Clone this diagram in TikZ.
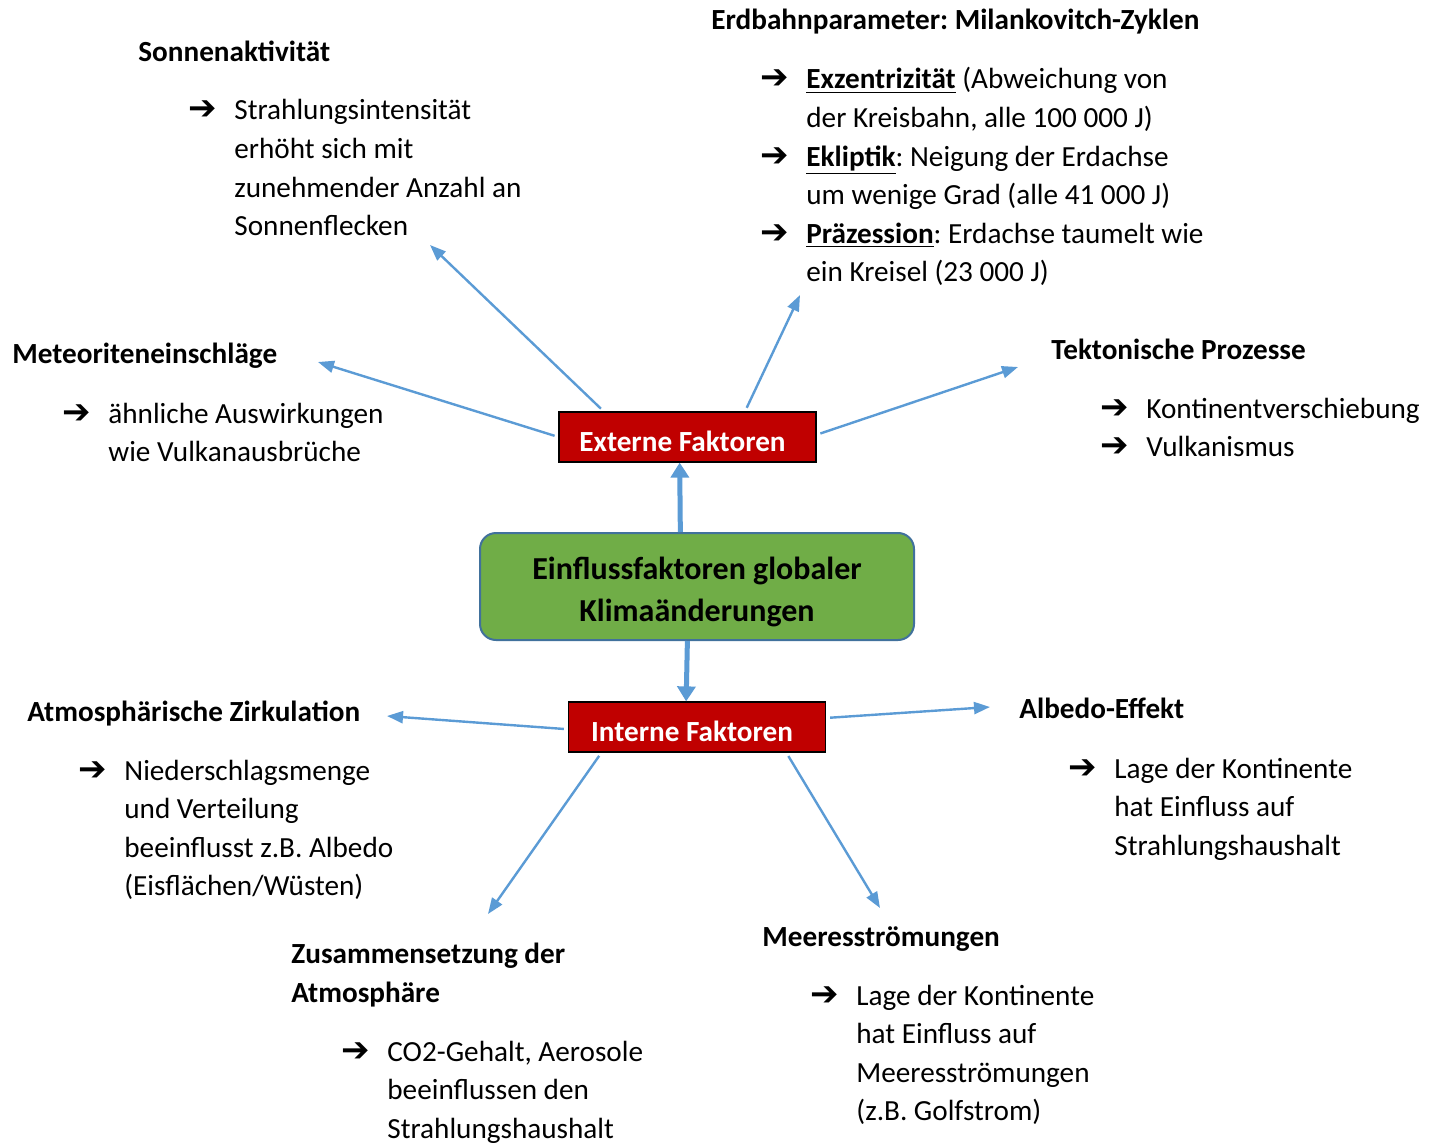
\documentclass[tikz,border=0pt]{standalone}
\usepackage{fontspec}
\setmainfont{Carlito}
\newfontfamily\arrowfont{DejaVu Sans Bold}
\usetikzlibrary{arrows.meta}
\definecolor{linkblue}{HTML}{5B9BD5}
\definecolor{factred}{HTML}{C00000}
\definecolor{mainfill}{HTML}{70AD47}
\definecolor{mainline}{HTML}{41719C}
\newcommand\bodyfont{\fontsize{14.6}{19.3}\selectfont}
\newcommand\itemarrow{{\arrowfont\fontsize{17}{17}\selectfont ➔}}
\newcommand\arrlist[1]{\begin{tabular}[t]{@{}p{23pt}@{}l@{}}#1\end{tabular}}
\frenchspacing

\begin{document}
\begin{tikzpicture}[
        x=0.5pt, y=-0.5pt,
        font=\bodyfont,
        head/.style={anchor=base west, inner sep=0pt, font=\bodyfont\bfseries},
        list/.style={anchor=base west, inner sep=0pt},
        factor/.style={draw=black, line width=0.6pt, fill=factred, text=white,
            font=\bodyfont\bfseries, minimum width=128.5pt, minimum height=25pt,
            text height=14pt, text depth=0pt, execute at begin node=\hspace*{-5pt}},
        main/.style={draw=mainline, line width=1pt, fill=mainfill, rounded corners=8pt,
            minimum width=217pt, minimum height=53.5pt, align=center,
            text height=34.8pt, text depth=0pt,
            font=\fontsize{16}{21}\selectfont\bfseries},
        link/.style={linkblue, line width=1.2pt, shorten <=2pt,
            -{Triangle[length=8pt,width=6pt]}},
        bigarrow/.style={linkblue, line width=2.5pt, -{Triangle[length=7.5pt,width=9pt]}},
    ]
    \useasboundingbox (0,0) rectangle (1439,1144);

    % centre
    \node[main] (klima) at (697,586.5) {Einflussfaktoren globaler\\Klimaänderungen};
    \node[factor] (ext) at (687.5,437) {Externe Faktoren};
    \node[factor] (int) at (697,727) {Interne Faktoren};

    \draw[bigarrow] (klima.107.6) -- (ext.253.3);
    \draw[bigarrow] (klima.260.5) -- (int.113.7);

    % externe Faktoren
    \node[head] (sonne) at (138,62) {Sonnenaktivität};
    \node[list] (sonnetxt) at (188,120) {\arrlist{\itemarrow & Strahlungsintensität\\
        & erhöht sich mit\\ & zunehmender Anzahl an\\ & Sonnenflecken}};

    \node[head] (erdbahn) at (711,30) {Erdbahnparameter: Milankovitch-Zyklen};
    \node[list] (erdbahntxt) at (760,89) {\arrlist{%
        \itemarrow & \underline{\textbf{Exzentrizität}} (Abweichung von\\
        & der Kreisbahn, alle 100~000 J)\\
        \itemarrow & \underline{\textbf{Ekliptik}}: Neigung der Erdachse\\
        & um wenige Grad (alle 41~000 J)\\
        \itemarrow & \underline{\textbf{Präzession}}: Erdachse taumelt wie\\
        & ein Kreisel (23~000 J)}};

    \node[head] (meteor) at (12,364) {Meteoriteneinschläge};
    \node[list] (meteortxt) at (62,423) {\arrlist{\itemarrow & ähnliche Auswirkungen\\
        & wie Vulkanausbrüche}};

    \node[head] (tekton) at (1051,360) {Tektonische Prozesse};
    \node[list] (tektontxt) at (1100,418) {\arrlist{\itemarrow & Kontinentverschiebung\\
        \itemarrow & Vulkanismus}};

    \coordinate (tipSonne) at (430,245);
    \coordinate (tipErd) at (800,295);
    \coordinate (tipMet) at (318,362);
    \coordinate (tipTek) at (1018,367);

    \draw[link] (ext.163.5) -- (tipSonne);
    \draw[link] (ext.24) -- (tipErd);
    \draw[link] (ext.180) -- (tipMet);
    \draw[link] (ext.1) -- (tipTek);

    % interne Faktoren
    \node[head] (atmos) at (27,721) {Atmosphärische Zirkulation};
    \node[list] (atmostxt) at (78,780) {\arrlist{\itemarrow & Niederschlagsmenge\\
        & und Verteilung\\ & beeinflusst z.B. Albedo\\ & (Eisflächen/Wüsten)}};

    \node[head] (albedo) at (1019,718) {Albedo-Effekt};
    \node[list] (albedotxt) at (1068,778) {\arrlist{\itemarrow & Lage der Kontinente\\
        & hat Einfluss auf\\ & Strahlungshaushalt}};

    \node[head, align=left] (zusam) at (291,1002) {Zusammensetzung der\\Atmosphäre};
    \node[list] (zusamtxt) at (341,1061) {\arrlist{\itemarrow & CO2-Gehalt, Aerosole\\
        & beeinflussen den\\ & Strahlungshaushalt}};

    \node[head] (meer) at (762,946) {Meeresströmungen};
    \node[list] (meertxt) at (810,1005) {\arrlist{\itemarrow & Lage der Kontinente\\
        & hat Einfluss auf\\ & Meeresströmungen\\ & (z.B. Golfstrom)}};

    \coordinate (tipAtm) at (387,716);
    \coordinate (tipAlb) at (990,707);
    \coordinate (tipZus) at (488,914);
    \coordinate (tipMee) at (880,908);

    \draw[link] (int.181) -- (tipAtm);
    \draw[link] (int.4.7) -- (tipAlb);
    \draw[link] (int.195.4) -- (tipZus);
    \draw[link] (int.344.1) -- (tipMee);
\end{tikzpicture}
\end{document}
